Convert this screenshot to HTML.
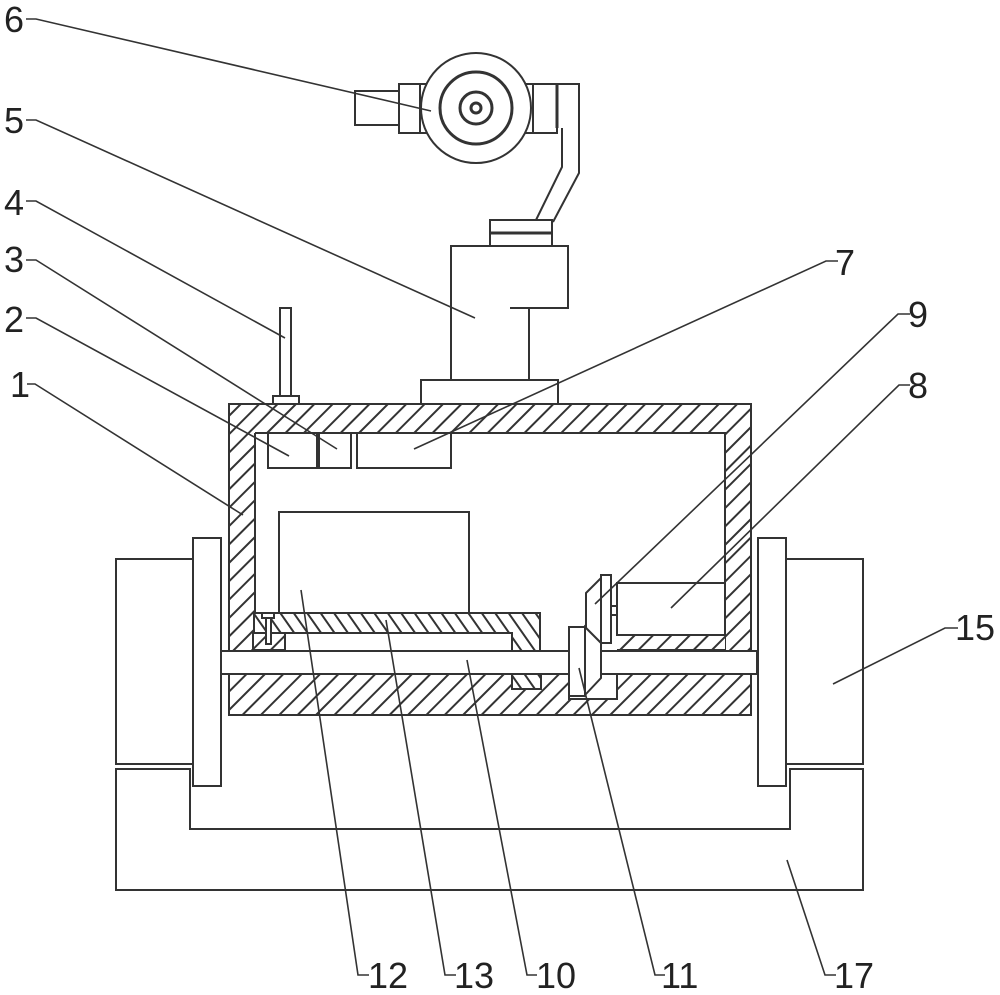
<!DOCTYPE html>
<html><head><meta charset="utf-8"><style>html,body{margin:0;padding:0;background:#fff;width:1000px;height:995px;overflow:hidden}svg{display:block}text{font-family:"Liberation Sans",sans-serif;font-size:36px;fill:#222}</style></head><body>
<svg width="1000" height="995" viewBox="0 0 1000 995" xmlns="http://www.w3.org/2000/svg">
<defs>
<pattern id="h1" width="13" height="13" patternUnits="userSpaceOnUse" patternTransform="rotate(-45)"><rect width="13" height="13" fill="#fff"/><rect width="13" height="2" fill="#333"/></pattern>
<pattern id="h2" width="11" height="11" patternUnits="userSpaceOnUse" patternTransform="rotate(55)"><rect width="11" height="11" fill="#fff"/><rect width="11" height="2" fill="#333"/></pattern>
</defs>
<rect width="1000" height="995" fill="#fff"/>
<g fill="none" stroke="#333" stroke-width="2">
<!-- housing -->
<path fill="url(#h1)" fill-rule="evenodd" stroke="none" d="M229 404H751V715H229Z M255 433H725V650H255Z"/>
<path d="M229 404H751V715H229Z M255 433H725V650"/>
<path d="M255 433V613"/>
<rect x="617" y="635" width="108" height="15" fill="url(#h1)" stroke="none"/>
<path d="M617 650H725"/>
<rect x="253" y="633" width="32" height="17" fill="url(#h1)"/>
<!-- slide plate -->
<path fill="url(#h2)" d="M254 613H540V651H512V633H254Z"/>
<path fill="url(#h2)" d="M512 674H541V689H512Z"/>
<!-- bolt -->
<rect x="262" y="613" width="12" height="5" fill="#fff"/>
<rect x="266" y="618" width="5" height="26" fill="#fff"/>
<!-- shaft -->
<rect x="221" y="651" width="536" height="23" fill="#fff"/>
<!-- wheels -->
<rect x="116" y="559" width="77" height="205" fill="#fff"/>
<rect x="786" y="559" width="77" height="205" fill="#fff"/>
<rect x="193" y="538" width="28" height="248" fill="#fff"/>
<rect x="758" y="538" width="28" height="248" fill="#fff"/>
<path d="M116 769H190V829H790V769H863V890H116Z" fill="#fff"/>
<!-- inner boxes -->
<rect x="279" y="512" width="190" height="101" fill="#fff"/>
<rect x="268" y="433" width="49" height="35" fill="#fff"/>
<rect x="319" y="433" width="32" height="35" fill="#fff"/>
<rect x="357" y="433" width="94" height="35" fill="#fff"/>
<rect x="617" y="583" width="108" height="52" fill="#fff"/>
<!-- gears -->
<rect x="611" y="606" width="6" height="9" fill="#fff"/>
<path d="M586 593L601 578V643L586 628Z" fill="#fff"/>
<rect x="601" y="575" width="10" height="68" fill="#fff"/>
<rect x="569" y="674" width="48" height="25" fill="#fff"/>
<path d="M585 627L601 643V678L585 695Z" fill="#fff"/>
<rect x="569" y="627" width="16" height="69" fill="#fff"/>
<!-- top assembly -->
<rect x="421" y="380" width="137" height="24" fill="#fff"/>
<path d="M451 380V246H568V308H510M529 308V380" fill="#fff"/>
<rect x="490" y="220" width="62" height="26" fill="#fff"/>
<path d="M490 233H552" stroke-width="3"/>
<path d="M557 84H579V173L553 222M562 128V167L536 220"/>
<rect x="533" y="84" width="24" height="49" fill="#fff"/>
<path d="M557 84V128" stroke-width="3"/>
<rect x="355" y="91" width="44" height="34" fill="#fff"/>
<rect x="399" y="84" width="21" height="49" fill="#fff"/>
<path d="M420 84H428M420 133H428M533 84H525M533 133H525"/>
<circle cx="476" cy="108" r="55" fill="#fff"/>
<circle cx="476" cy="108" r="36" stroke-width="3"/>
<circle cx="476" cy="108" r="16" stroke-width="3"/>
<circle cx="476" cy="108" r="5" stroke-width="3"/>
<!-- antenna -->
<rect x="280" y="308" width="11" height="88" fill="#fff"/>
<rect x="273" y="396" width="26" height="8" fill="#fff"/>
</g>
<!-- leaders -->
<g fill="none" stroke="#333" stroke-width="1.6">
<path d="M26 19H36L431 111"/>
<path d="M26 120H36L475 318"/>
<path d="M26 201H36L285 338"/>
<path d="M26 260H36L337 449"/>
<path d="M26 318H36L289 456"/>
<path d="M27 384H35L243 515"/>
<path d="M838 261H826L414 449"/>
<path d="M910 314H898L595 604"/>
<path d="M910 385H899L671 608"/>
<path d="M958 628H945L833 684"/>
<path d="M301 590L358 975H369"/>
<path d="M386 620L445 975H456"/>
<path d="M467 660L527 975H537"/>
<path d="M579 668L655 975H665"/>
<path d="M787 860L825 975H836"/>
</g>
<text x="4" y="32">6</text>
<text x="4" y="133">5</text>
<text x="4" y="215">4</text>
<text x="4" y="272">3</text>
<text x="4" y="332">2</text>
<text x="10" y="397">1</text>
<text x="835" y="275">7</text>
<text x="908" y="327">9</text>
<text x="908" y="398">8</text>
<text x="955" y="640">15</text>
<text x="368" y="988">12</text>
<text x="454" y="988">13</text>
<text x="536" y="988">10</text>
<text x="661" y="988">11</text>
<text x="834" y="988">17</text>
</svg>
</body></html>
